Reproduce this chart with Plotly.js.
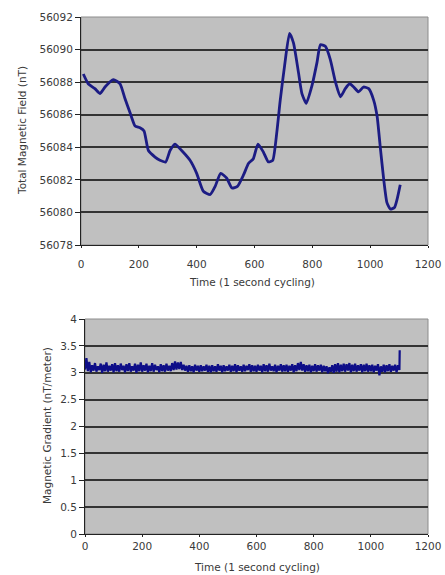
<!DOCTYPE html>
<html>
<head>
<meta charset="utf-8">
<script src="https://cdn.plot.ly/plotly-3.0.1.min.js"></script>
<style>html,body{margin:0;padding:0;background:#fff;}#chart{width:445px;height:575px;}</style>
</head>
<body>
<div id="chart"></div>
<script>
// Top chart: Total Magnetic Field (nT) vs time
var fieldTime = [8,25,48,66,83,112,135,152,170,187,204,218,233,256,273,293,308,325,348,377,400,423,447,464,483,504,522,541,562,579,596,612,631,648,663,677,689,704,721,735,752,764,779,799,816,828,845,862,880,897,914,929,943,960,977,995,1012,1024,1035,1047,1058,1070,1084,1093,1104];
var fieldValue = [56088.5,56087.9,56087.6,56087.3,56087.7,56088.15,56087.9,56087.0,56086.1,56085.3,56085.2,56085.0,56083.8,56083.4,56083.2,56083.1,56083.8,56084.2,56083.8,56083.2,56082.4,56081.3,56081.1,56081.6,56082.4,56082.1,56081.5,56081.6,56082.3,56083.0,56083.3,56084.2,56083.7,56083.1,56083.2,56084.9,56086.9,56089.0,56091.0,56090.4,56088.6,56087.3,56086.7,56087.8,56089.2,56090.3,56090.2,56089.4,56088.0,56087.1,56087.6,56087.9,56087.7,56087.4,56087.7,56087.6,56086.9,56085.9,56084.0,56082.0,56080.6,56080.2,56080.3,56080.8,56081.7];

// Bottom chart: Magnetic Gradient (nT/meter), read every 5 s, plus final spike
var gradStep = 5;
var gradValue = [
3.06,3.27,3.03,3.20,3.01,3.14,3.04,3.18,3.02,3.12,3.05,3.17,3.00,3.15,3.03,3.19,3.02,3.13,3.04,3.16,
3.01,3.18,3.03,3.14,3.02,3.17,3.05,3.13,3.01,3.16,3.03,3.18,3.02,3.12,3.04,3.17,3.00,3.15,3.03,3.19,
3.02,3.14,3.04,3.17,3.01,3.13,3.03,3.18,3.02,3.15,3.05,3.12,3.01,3.16,3.03,3.14,3.02,3.17,3.04,3.13,
3.03,3.18,3.05,3.21,3.06,3.19,3.07,3.20,3.05,3.15,3.04,3.13,3.02,3.14,3.03,3.12,3.01,3.15,3.04,3.13,
3.02,3.14,3.03,3.12,3.04,3.15,3.02,3.13,3.01,3.14,3.03,3.12,3.02,3.16,3.04,3.13,3.01,3.14,3.03,3.12,
3.04,3.15,3.02,3.13,3.03,3.16,3.01,3.14,3.04,3.12,3.02,3.15,3.03,3.13,3.05,3.16,3.02,3.14,3.03,3.13,
3.02,3.15,3.04,3.13,3.01,3.16,3.03,3.14,3.02,3.17,3.04,3.12,3.03,3.15,3.01,3.13,3.04,3.16,3.02,3.14,
3.03,3.15,3.02,3.13,3.04,3.16,3.01,3.14,3.03,3.18,3.05,3.20,3.04,3.16,3.02,3.14,3.03,3.15,3.01,3.13,
3.03,3.16,3.02,3.14,3.04,3.15,3.01,3.13,3.03,3.12,2.99,3.10,3.02,3.14,3.00,3.16,3.02,3.18,3.01,3.15,
3.03,3.17,3.02,3.16,3.04,3.18,3.01,3.15,3.03,3.17,3.02,3.14,3.04,3.16,3.01,3.15,3.03,3.17,3.02,3.14,
3.03,3.15,3.01,3.13,3.04,3.16,2.95,3.12,3.02,3.15,3.01,3.14,3.03,3.16,3.02,3.13,3.04,3.15,3.01,3.14,
3.05];
var spikeTime = [1101];
var spikeValue = [3.42];

var fieldTicks = [56078,56080,56082,56084,56086,56088,56090,56092];
var gradTicks = [0,0.5,1,1.5,2,2.5,3,3.5,4];
var timeTicks = [0,200,400,600,800,1000,1200];

var gradTime = gradValue.map(function(v,i){return i*gradStep;}).concat(spikeTime);
var gradAll = gradValue.concat(spikeValue);

var W = 445, H = 575;
var tickFont = {family:'DejaVu Sans, sans-serif', size:10.5, color:'#3a3a3a'};
var titleFont = {family:'DejaVu Sans, sans-serif', size:10.5, color:'#3a3a3a'};

var traces = [
  {x:fieldTime, y:fieldValue, type:'scatter', mode:'lines', line:{color:'#1c1c84', width:2.8, shape:'spline', smoothing:0.5}, xaxis:'x', yaxis:'y', hoverinfo:'none'},
  {x:gradTime, y:gradAll, type:'scatter', mode:'lines', line:{color:'#0e0e88', width:2.2}, xaxis:'x2', yaxis:'y2', hoverinfo:'none'}
];

function xAx(dom, anchor, standoff){
  return {domain:dom, anchor:anchor, range:[0,1200], tickvals:timeTicks, ticktext:timeTicks.map(String),
    showgrid:false, zeroline:false, showline:true, linecolor:'#222', linewidth:1,
    ticks:'outside', ticklen:2, tickcolor:'#222', tickfont:tickFont, automargin:false,
    ticklabelstandoff:standoff};
}
function yAx(dom, anchor, rng, tv){
  return {domain:dom, anchor:anchor, range:rng, tickvals:tv, ticktext:tv.map(String),
    showgrid:true, gridcolor:'#333', gridwidth:2, zeroline:false,
    showline:true, linecolor:'#222', linewidth:1, ticks:'outside', ticklen:5, tickcolor:'#222',
    tickfont:tickFont, automargin:false};
}

var layout = {
  width:W, height:H, margin:{l:0,r:0,t:0,b:0}, showlegend:false,
  paper_bgcolor:'#fff', plot_bgcolor:'#c0c0c0',
  xaxis: xAx([81/W, 428/W], 'y', 7),
  yaxis: yAx([1-245/H, 1-17/H], 'x', [56078,56092], fieldTicks),
  xaxis2: xAx([85/W, 428/W], 'y2', 0),
  yaxis2: yAx([1-534/H, 1-319/H], 'x2', [0,4], gradTicks),
  shapes:[
    {type:'rect', xref:'x domain', yref:'y domain', x0:0, x1:1, y0:0, y1:1, line:{color:'#8c8c8c', width:1}, layer:'below'},
    {type:'rect', xref:'x2 domain', yref:'y2 domain', x0:0, x1:1, y0:0, y1:1, line:{color:'#8c8c8c', width:1}, layer:'below'}
  ],
  annotations:[
    {text:'Time (1 second cycling)', xref:'paper', yref:'paper', x:252/W, y:1-282/H, xanchor:'center', yanchor:'middle', showarrow:false, font:titleFont},
    {text:'Total Magnetic Field (nT)', xref:'paper', yref:'paper', x:22/W, y:1-131/H, xanchor:'center', yanchor:'middle', textangle:-90, showarrow:false, font:titleFont},
    {text:'Time (1 second cycling)', xref:'paper', yref:'paper', x:257/W, y:1-567/H, xanchor:'center', yanchor:'middle', showarrow:false, font:titleFont},
    {text:'Magnetic Gradient (nT/meter)', xref:'paper', yref:'paper', x:47/W, y:1-426/H, xanchor:'center', yanchor:'middle', textangle:-90, showarrow:false, font:titleFont}
  ]
};

Plotly.newPlot('chart', traces, layout, {staticPlot:true, displayModeBar:false});
</script>
</body>
</html>
